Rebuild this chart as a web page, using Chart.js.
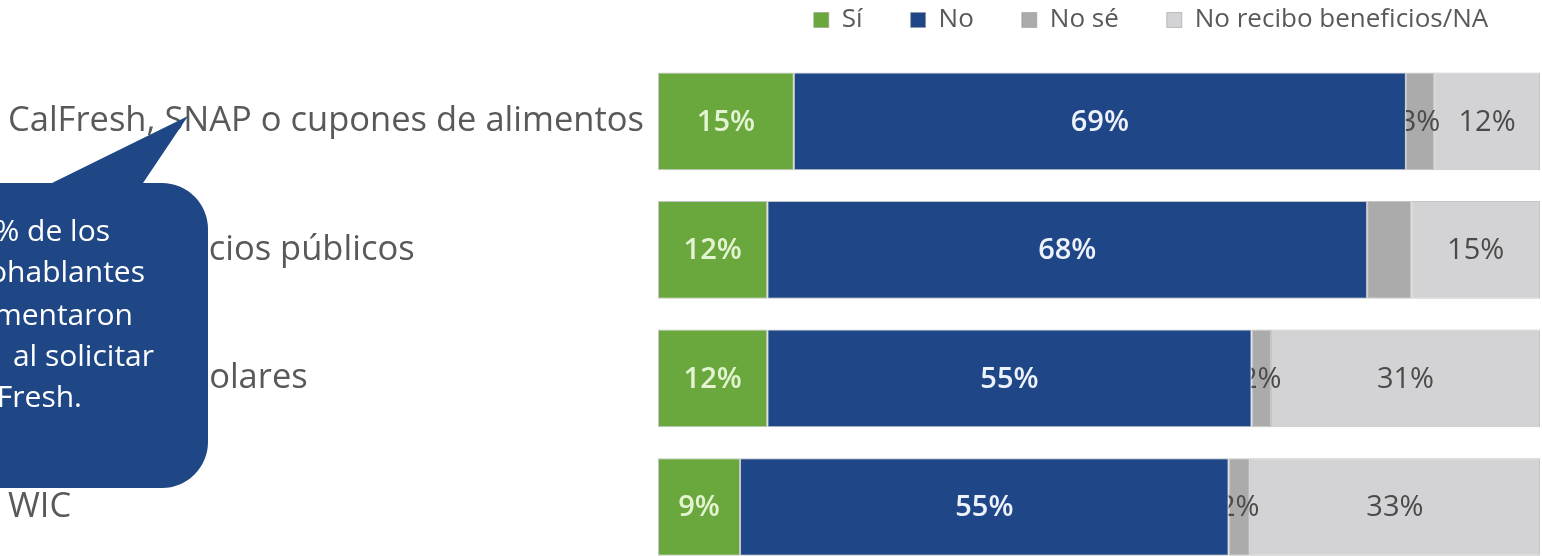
<!DOCTYPE html>
<html>
<head>
<meta charset="utf-8">
<script src="https://cdn.jsdelivr.net/npm/chart.js@4.4.1/dist/chart.umd.min.js"></script>
<style>
  html, body { margin: 0; padding: 0; background: #fff; overflow: hidden; }
  #wrap { position: relative; width: 1542px; height: 595px; }
</style>
</head>
<body>
<div id="wrap"><canvas id="benefitsChart"></canvas></div>
<script>
// values (100% stacked, labels show rounded values)
const categories = ['CalFresh, SNAP o cupones de alimentos', 'Otros beneficios públicos', 'Comidas escolares', 'WIC'];
const seriesNames = ['Sí', 'No', 'No sé', 'No recibo beneficios/NA'];
const siValues = [15.4, 12.4, 12.4, 9.3];
const noValues = [69.4, 68.0, 54.9, 55.4];
const noSeValues = [3.2, 5.0, 2.2, 2.4];
const naValues = [12.0, 14.6, 30.5, 32.9];
const noSeLabelShown = [true, false, true, true];
const calloutLines = ['% de los', 'hispanohablantes', 'experimentaron', 'dificultades al solicitar', 'CalFresh.'];

const fillColors = ['#6aa83d', '#1f4787', '#ababab', '#d3d3d5'];
const labelColors = ['#e4f4d2', '#eef2fa', '#4a4a4a', '#4a4a4a'];

const segmentLabels = {
    id: 'segmentLabels',
    afterDatasetsDraw(chart) {
        const ctx = chart.ctx;
        const area = chart.chartArea;
        ctx.save();
        ctx.textAlign = 'center';
        ctx.textBaseline = 'middle';
        chart.data.datasets.forEach((ds, di) => {
            const meta = chart.getDatasetMeta(di);
            ctx.font = (di < 2 ? '600 ' : '') + '29px "Open Sans"';
            meta.data.forEach((bar, i) => {
                if (di === 2 && !noSeLabelShown[i]) return;
                const left = Math.min(bar.x, bar.base);
                ctx.save();
                ctx.beginPath();
                ctx.rect(left, 0, area.right + 10 - left, chart.height);
                ctx.clip();
                ctx.fillStyle = labelColors[di];
                ctx.fillText(Math.round(ds.data[i]) + '%', (bar.x + bar.base) / 2, bar.y + 1);
                ctx.restore();
            });
        });
        ctx.restore();
    }
};

// move the legend up and to the right, like the original
const legendShift = {
    id: 'legendShift',
    afterLayout(chart) {
        const lg = chart.legend;
        lg.left += 52;
        lg.right += 52;
        lg.top -= 41;
    }
};

// speech bubble laid over the left side
const callout = {
    id: 'callout',
    afterDraw(chart) {
        const ctx = chart.ctx;
        const r = 46;
        const top = 183, bottom = 488, right = 208, left = -60;
        ctx.save();
        ctx.fillStyle = '#1f4785';
        ctx.beginPath();
        ctx.moveTo(left, top);
        ctx.lineTo(52, top);
        ctx.lineTo(188, 116);
        ctx.lineTo(143, top);
        ctx.lineTo(right - r, top);
        ctx.arcTo(right, top, right, top + r, r);
        ctx.lineTo(right, bottom - r);
        ctx.arcTo(right, bottom, right - r, bottom, r);
        ctx.lineTo(left, bottom);
        ctx.closePath();
        ctx.fill();
        ctx.fillStyle = '#ffffff';
        ctx.font = '30px "Open Sans"';
        ctx.textAlign = 'right';
        ctx.textBaseline = 'middle';
        const ends = [110, 145, 133, 154, 82];
        const ys = [232, 273, 316, 357, 398];
        const clipFrom = [0, 0, 0, 7, 0];
        calloutLines.forEach((line, i) => {
            ctx.save();
            ctx.beginPath();
            ctx.rect(clipFrom[i], ys[i] - 25, 200, 50);
            ctx.clip();
            ctx.fillText(line, ends[i], ys[i]);
            ctx.restore();
        });
        ctx.restore();
    }
};

const allValues = [siValues, noValues, noSeValues, naValues];

new Chart(document.getElementById('benefitsChart'), {
    type: 'bar',
    data: {
        labels: categories,
        datasets: seriesNames.map((name, k) => ({
            label: name,
            data: allValues[k],
            backgroundColor: fillColors[k],
            borderColor: 'rgba(150,150,150,0.55)',
            borderWidth: 1,
            borderSkipped: false,
            barPercentage: 0.76,
            categoryPercentage: 1
        }))
    },
    options: {
        indexAxis: 'y',
        responsive: true,
        maintainAspectRatio: false,
        animation: false,
        layout: { padding: { left: 8, right: 2, top: 0, bottom: 0 } },
        plugins: {
            legend: {
                position: 'top',
                fullSize: false,
                align: 'center',
                maxHeight: 57,
                labels: {
                    color: '#595959',
                    font: { family: 'Open Sans', size: 26 },
                    boxWidth: 15,
                    boxHeight: 15,
                    padding: 48
                }
            },
            tooltip: { enabled: false }
        },
        scales: {
            x: {
                stacked: true,
                min: 0,
                max: 100,
                display: false
            },
            y: {
                stacked: true,
                grid: { display: false },
                border: { display: false },
                afterFit: (scale) => { scale.width = 650; },
                ticks: {
                    crossAlign: 'far',
                    color: '#595959',
                    font: { family: 'Open Sans', size: 34.5 }
                }
            }
        }
    },
    plugins: [segmentLabels, legendShift, callout]
});
</script>
</body>
</html>
